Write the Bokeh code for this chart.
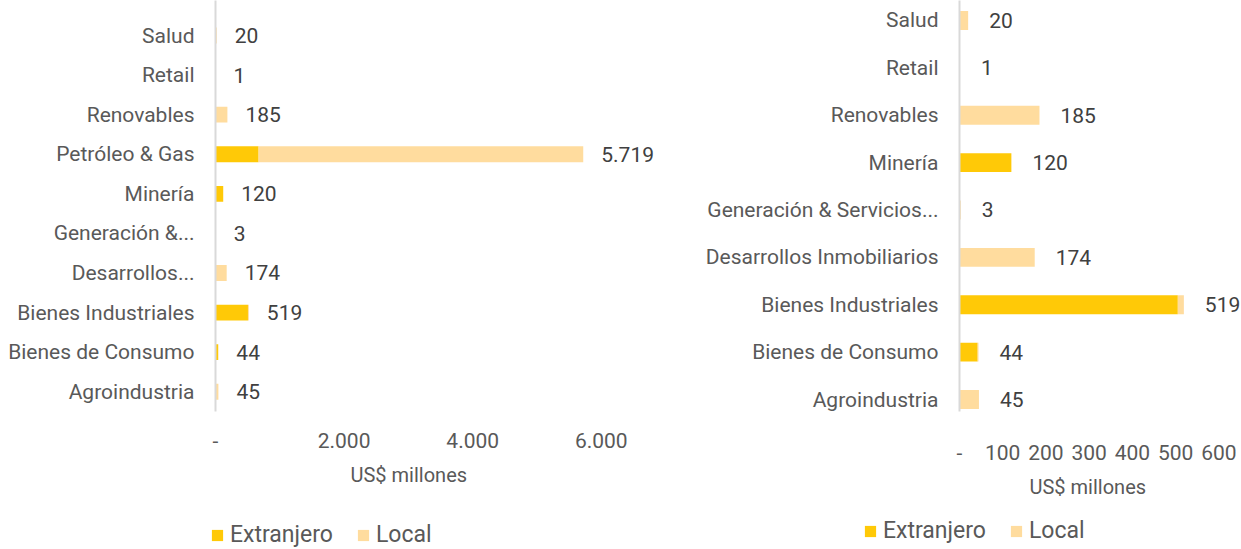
from bokeh.plotting import figure
from bokeh.models import (ColumnDataSource, Range1d, FixedTicker, LabelSet,
                          Legend, LegendItem, Title)
from bokeh.layouts import row, column
from bokeh.embed import file_html
from bokeh.resources import INLINE
from bokeh.core.properties import value

# ---------------- data (bottom to top) ----------------
categories = ["Agroindustria", "Bienes de Consumo", "Bienes Industriales",
              "Desarrollos Inmobiliarios", "Generación & Servicios Públicos",
              "Minería", "Petróleo & Gas", "Renovables", "Retail", "Salud"]
extranjero = [0, 42, 505, 0, 0, 120, 670, 0, 0, 0]
local = [45, 2, 14, 174, 3, 0, 5049, 185, 1, 20]
total_labels = ["45", "44", "519", "174", "3", "120", "5.719", "185", "1", "20"]

left_display = {"Desarrollos Inmobiliarios": "Desarrollos...",
                "Generación & Servicios Públicos": "Generación &..."}
right_display = {"Generación & Servicios Públicos": "Generación & Servicios..."}
right_excluded = ["Petróleo & Gas"]

left_ticks = [0, 2000, 4000, 6000]
left_tick_labels = ["-", "2.000", "4.000", "6.000"]
right_ticks = [0, 100, 200, 300, 400, 500, 600]
right_tick_labels = ["-", "100", "200", "300", "400", "500", "600"]

axis_title = "US$ millones"
series_names = ["Extranjero", "Local"]

EXT_COLOR = "#FFC907"
LOC_COLOR = "#FFDC9E"
FONT = "Roboto"
LABEL_GRAY = "#595959"
VALUE_GRAY = "#404040"

CHART_H = 510
LEGEND_H = 38
FRAME_BOTTOM = 411


def make_panel(cats, ext, loc, labels, display, ticks, tick_labels,
               width, b_left, x_end, y_start, y_end,
               label_offset, title_offset, tick_standoff):
    n = len(cats)
    ys = list(range(n))
    cum = [e + l for e, l in zip(ext, loc)]
    src = ColumnDataSource(dict(y=ys, zero=[0] * n, ext=ext, cum=cum, lbl=labels))

    p = figure(width=width, height=CHART_H,
               x_range=Range1d(0, x_end), y_range=Range1d(y_start, y_end),
               output_backend="svg", toolbar_location=None,
               min_border_left=b_left, min_border_top=0,
               min_border_bottom=CHART_H - FRAME_BOTTOM, min_border_right=0)
    p.outline_line_color = None
    p.xgrid.visible = False
    p.ygrid.visible = False

    p.hbar(y="y", left="zero", right="ext", height=0.4,
           fill_color=EXT_COLOR, line_color=None, source=src)
    p.hbar(y="y", left="ext", right="cum", height=0.4,
           fill_color=LOC_COLOR, line_color=None, source=src)

    lbls = LabelSet(x="cum", y="y", text="lbl", source=src,
                    x_offset=label_offset, text_align="left",
                    text_baseline="middle", text_font=value(FONT),
                    text_font_size="21px", text_color=VALUE_GRAY)
    p.add_layout(lbls)

    yax = p.yaxis[0]
    yax.ticker = FixedTicker(ticks=ys)
    yax.major_label_overrides = {i: display.get(c, c) for i, c in enumerate(cats)}
    yax.axis_line_color = "#D9D9D9"
    yax.axis_line_width = 2
    yax.major_tick_line_color = None
    yax.minor_tick_line_color = None
    yax.major_label_standoff = 15
    yax.major_label_text_font = FONT
    yax.major_label_text_font_size = "21px"
    yax.major_label_text_color = LABEL_GRAY

    xax = p.xaxis[0]
    xax.ticker = FixedTicker(ticks=ticks)
    xax.major_label_overrides = {t: s for t, s in zip(ticks, tick_labels)}
    xax.axis_line_color = None
    xax.major_tick_line_color = None
    xax.minor_tick_line_color = None
    xax.major_label_standoff = tick_standoff
    xax.major_label_text_font = FONT
    xax.major_label_text_font_size = "21px"
    xax.major_label_text_color = LABEL_GRAY

    t = Title(text=axis_title, align="left", offset=title_offset,
              text_font=FONT, text_font_size="20px", text_font_style="normal",
              text_color=LABEL_GRAY, standoff=21)
    p.add_layout(t, "below")
    return p


def make_legend(width, lx, ly):
    p = figure(width=width, height=LEGEND_H, x_range=Range1d(0, 1),
               y_range=Range1d(0, 1), output_backend="svg",
               toolbar_location=None, x_axis_location=None,
               y_axis_location=None, min_border=0)
    p.outline_line_color = None
    p.xgrid.visible = False
    p.ygrid.visible = False
    # swatch renderers: their single bar lies outside the visible range
    swatch = ColumnDataSource(dict(y=[10], l=[10], r=[11]))
    r1 = p.hbar(y="y", left="l", right="r", height=0.4,
                fill_color=EXT_COLOR, line_color=None, source=swatch)
    r2 = p.hbar(y="y", left="l", right="r", height=0.4,
                fill_color=LOC_COLOR, line_color=None, source=swatch)
    legend = Legend(items=[LegendItem(label=series_names[0], renderers=[r1], index=0),
                           LegendItem(label=series_names[1], renderers=[r2], index=0)],
                    orientation="horizontal", location=(lx, ly),
                    border_line_color=None, background_fill_alpha=0,
                    padding=0, margin=0, spacing=23,
                    glyph_width=14, glyph_height=14, label_standoff=6,
                    label_text_font=FONT, label_text_font_size="23px",
                    label_text_color=LABEL_GRAY, label_height=23)
    p.add_layout(legend)
    return p


LEFT_W = 668
RIGHT_W = 572

# left panel: rows 39.55 px apart, Salud centred 35 px below the frame top
left = make_panel(categories, extranjero, local, total_labels, left_display,
                  left_ticks, left_tick_labels,
                  width=LEFT_W, b_left=215, x_end=7045,
                  y_start=-0.5, y_end=len(categories) - 1 + 35 / 39.55,
                  label_offset=18, title_offset=135, tick_standoff=15)

keep = [i for i, c in enumerate(categories) if c not in right_excluded]
r_cats = [categories[i] for i in keep]
r_ext = [extranjero[i] for i in keep]
r_loc = [local[i] for i in keep]
r_lbl = [total_labels[i] for i in keep]

# right panel: rows 47.4 px apart
right = make_panel(r_cats, r_ext, r_loc, r_lbl, right_display,
                   right_ticks, right_tick_labels,
                   width=RIGHT_W, b_left=291, x_end=650,
                   y_start=-12 / 47.4, y_end=len(r_cats) - 1 + 20 / 47.4,
                   label_offset=21, title_offset=70, tick_standoff=27)

leg_left = make_legend(LEFT_W, 210, 0)
leg_right = make_legend(RIGHT_W, 195, 4)

layout = column(row(left, right, spacing=0), row(leg_left, leg_right, spacing=0),
                spacing=0)
open("out.html", "w").write(file_html(layout, INLINE))
